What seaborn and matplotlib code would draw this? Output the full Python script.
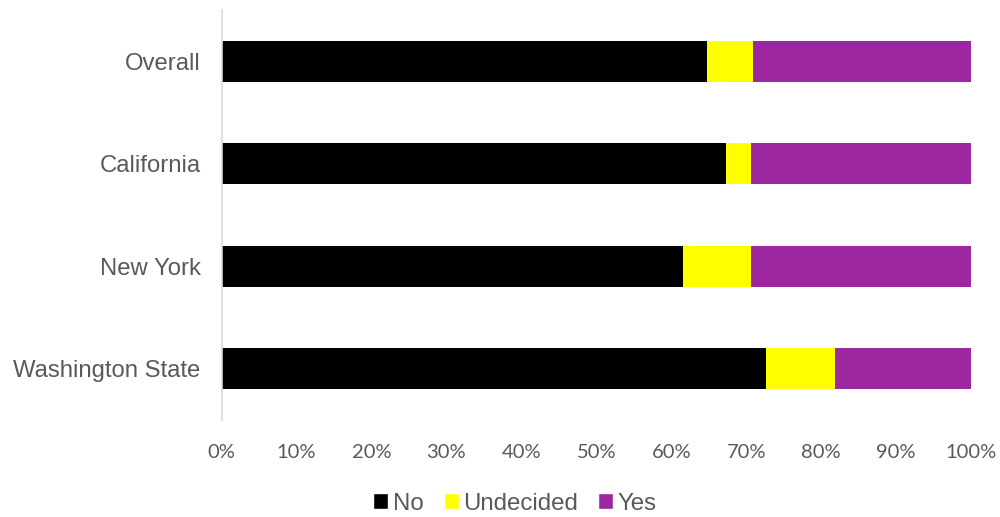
import matplotlib
matplotlib.use("Agg")
import matplotlib.pyplot as plt
from matplotlib.ticker import PercentFormatter
from matplotlib.patches import Patch
import seaborn as sns
import pandas as pd
import numpy as np

sns.set_theme(style="white")
plt.rcParams["font.family"] = ["Liberation Sans", "DejaVu Sans"]

regions = ["Overall", "California", "New York", "Washington State"]
no_pct = [64.8, 67.3, 61.6, 72.7]
undecided_pct = [6.1, 3.3, 9.0, 9.1]
yes_pct = [29.1, 29.4, 29.4, 18.2]

series = ["No", "Undecided", "Yes"]
colors = {"No": "#000000", "Undecided": "#FFFF00", "Yes": "#9C27A0"}
text_gray = "#595959"

df = pd.DataFrame({"region": regions, "No": no_pct,
                   "Undecided": undecided_pct, "Yes": yes_pct})
cum = df[series].cumsum(axis=1)

fig = plt.figure(figsize=(10, 5.17), dpi=100)
ax = fig.add_axes([0.2215, 97 / 517, 0.7495, 410 / 517])

# stacked bars: draw cumulative totals from the outermost segment inwards
for s in reversed(series):
    sns.barplot(x=cum[s], y=df["region"], color=colors[s], orient="h",
                width=0.4, saturation=1, ax=ax, edgecolor="none")

ax.set_xlim(0, 100)
ax.set_ylim(3.5, -0.5)
ax.set_xticks(np.arange(0, 101, 10))
ax.xaxis.set_major_formatter(PercentFormatter(decimals=0))
ax.set_xlabel("")
ax.set_ylabel("")
ax.tick_params(axis="x", colors=text_gray, labelsize=14.5, length=0, pad=17)
ax.tick_params(axis="y", colors=text_gray, labelsize=17.2, length=0, pad=15)
for lbl in ax.get_xticklabels():
    lbl.set_family(["Lato", "DejaVu Sans"])
for sp in ["top", "right", "bottom"]:
    ax.spines[sp].set_visible(False)
ax.spines["left"].set_color("#D9D9D9")
ax.spines["left"].set_linewidth(1.2)

handles = [Patch(facecolor=colors[s], label=s) for s in series]
leg = fig.legend(handles=handles, loc="lower center", ncol=3, frameon=False,
                 bbox_to_anchor=(0.515, -0.037), fontsize=17.3, handlelength=0.62,
                 handleheight=0.62, handletextpad=0.18, columnspacing=0.85)
for t in leg.get_texts():
    t.set_color(text_gray)

fig.savefig("out.png", dpi=100)
